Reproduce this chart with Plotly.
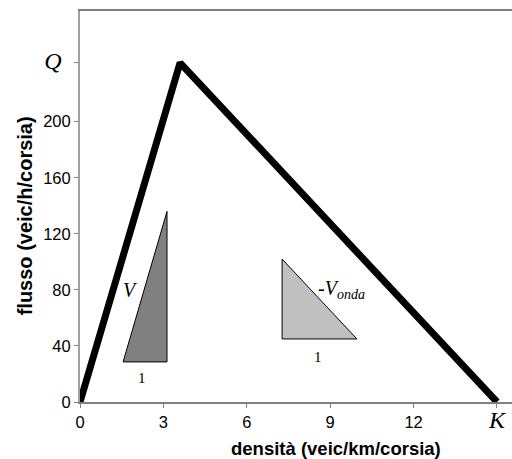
import plotly.graph_objects as go

# Fundamental diagram (triangular flow-density relation)
density = [0, 3.6, 15]          # veic/km/corsia
flow = [0, 242, 0]              # veic/h/corsia
Q_MAX = 242
K_JAM = 15

# Slope triangles: free-flow speed V and wave speed -V_onda
tri_v_x = [1.55, 3.13, 3.13, 1.55]
tri_v_y = [28.6, 28.6, 136, 28.6]
tri_w_x = [7.27, 7.27, 9.96, 7.27]
tri_w_y = [102, 45, 45, 102]

SANS = "Liberation Sans, Arial, sans-serif"
SERIF = "Liberation Serif, Times New Roman, serif"


def serif_label(letter):
    return (f'<span style="font-family:{SERIF};font-size:24px">'
            f'<i>{letter}</i></span>')


x_ticks = [0, 3, 6, 9, 12, K_JAM]
x_ticktext = ["0", "3", "6", "9", "12", serif_label("K")]
y_ticks = [0, 40, 80, 120, 160, 200, Q_MAX]
y_ticktext = ["0", "40", "80", "120", "160", "200",
              serif_label("Q") + "&nbsp;&nbsp;"]

fig = go.Figure()
fig.add_trace(go.Scatter(x=tri_v_x, y=tri_v_y, mode="lines", fill="toself",
                         fillcolor="#808080", line=dict(color="black", width=1),
                         hoverinfo="skip"))
fig.add_trace(go.Scatter(x=tri_w_x, y=tri_w_y, mode="lines", fill="toself",
                         fillcolor="#c0c0c0", line=dict(color="black", width=1),
                         hoverinfo="skip"))
fig.add_trace(go.Scatter(x=density, y=flow, mode="lines",
                         line=dict(color="black", width=7), hoverinfo="skip"))

annotations = [
    dict(x=1.8, y=80, text="<i>V</i>", font=dict(family=SERIF, size=20, color="black")),
    dict(x=2.23, y=17, text="1", font=dict(family=SERIF, size=15, color="black")),
    dict(x=8.5, y=80, text="-<i>V</i><sub><i>onda</i></sub>", xanchor="left",
         font=dict(family=SERIF, size=20, color="black")),
    dict(x=8.56, y=32, text="1", font=dict(family=SERIF, size=15, color="black")),
    # axis titles
    dict(x=9.2, y=0, yshift=-46, text="<b>densità (veic/km/corsia)</b>",
         font=dict(family=SANS, size=18.5, color="black")),
    dict(x=0, xref="paper", xshift=-55, y=132.5, textangle=-90,
         text="<b>flusso (veic/h/corsia)</b>",
         font=dict(family=SANS, size=20, color="black")),
]
for a in annotations:
    a.setdefault("xref", "x")
    a.setdefault("yref", "y")
    a.setdefault("xanchor", "center")
    a.setdefault("yanchor", "middle")
    a["showarrow"] = False

fig.update_layout(
    width=512, height=459,
    margin=dict(l=80, r=0, t=11, b=57),
    paper_bgcolor="white", plot_bgcolor="white",
    showlegend=False,
    font=dict(family=SANS, size=16.5, color="black"),
    annotations=annotations,
    xaxis=dict(range=[0, 15.54], tickvals=x_ticks, ticktext=x_ticktext,
               showgrid=False, zeroline=False, showline=True, linecolor="#808080",
               linewidth=2, mirror=True, ticks="outside", ticklen=4, tickcolor="#808080"),
    yaxis=dict(range=[0, 279], tickvals=y_ticks, ticktext=y_ticktext,
               showgrid=False, zeroline=False, showline=True, linecolor="#a0a0a0",
               linewidth=2, ticks="outside", ticklen=4, tickcolor="#808080"),
)

fig.write_html("out.html")
